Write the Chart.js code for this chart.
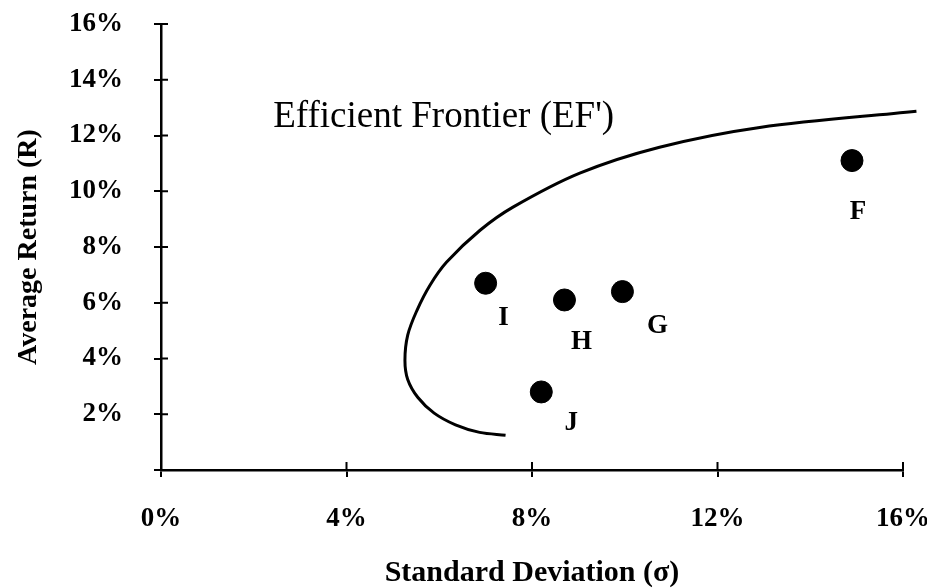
<!DOCTYPE html>
<html>
<head>
<meta charset="utf-8">
<script src="https://cdn.jsdelivr.net/npm/chart.js@4"></script>
<style>
  html, body { margin: 0; padding: 0; background: #fff; }
  #wrap { width: 927px; height: 588px; }
</style>
</head>
<body>
<div id="wrap"><canvas id="grafico" width="927" height="588"></canvas></div>
<script>
// portfolios (standard deviation %, average return %)
const portfolios = ['F', 'G', 'H', 'I', 'J'];
const sigma = [14.9, 9.95, 8.7, 7.0, 8.2];
const retorno = [11.1, 6.4, 6.1, 6.7, 2.8];

const frontierX = [7.43, 6.87, 6.35, 5.89, 5.54, 5.32, 5.26, 5.32, 5.52, 5.80, 6.16, 6.88, 7.59, 9.03, 10.75, 12.91, 16.29];
const frontierY = [1.25, 1.35, 1.62, 2.04, 2.60, 3.25, 3.94, 4.84, 5.73, 6.63, 7.46, 8.60, 9.43, 10.65, 11.58, 12.29, 12.87];

const xTicks = [0, 4, 8, 12, 16];
const yTicks = [2, 4, 6, 8, 10, 12, 14, 16];

// where the letters sit relative to their dot (px)
const labelOffsets = { F: [6, 51], G: [35, 34], H: [17, 42], I: [18, 35], J: [30, 31] };

const serif = '"Liberation Serif", "Times New Roman", serif';

const rotulos = {
  id: 'rotulos',
  afterDatasetsDraw(chart) {
    const ctx = chart.ctx;
    const meta = chart.getDatasetMeta(1);
    ctx.save();
    ctx.fillStyle = '#000';
    ctx.font = 'bold 27px ' + serif;
    ctx.textAlign = 'center';
    ctx.textBaseline = 'middle';
    meta.data.forEach((p, i) => {
      const off = labelOffsets[portfolios[i]];
      ctx.fillText(portfolios[i], p.x + off[0], p.y + off[1]);
    });
    // frontier caption
    const sx = chart.scales.x, sy = chart.scales.y;
    ctx.font = '37px ' + serif;
    ctx.textAlign = 'left';
    ctx.textBaseline = 'alphabetic';
    ctx.fillText("Efficient Frontier (EF')", sx.getPixelForValue(2.42), sy.getPixelForValue(12.3));
    // tick marks crossing into the plot
    ctx.strokeStyle = '#000';
    ctx.lineWidth = 2;
    ctx.beginPath();
    xTicks.forEach(v => {
      const px = sx.getPixelForValue(v);
      ctx.moveTo(px, sy.bottom);
      ctx.lineTo(px, sy.bottom - 8);
    });
    yTicks.forEach(v => {
      const py = sy.getPixelForValue(v);
      ctx.moveTo(sx.left, py);
      ctx.lineTo(sx.left + 7, py);
    });
    ctx.stroke();
    ctx.restore();
  }
};

new Chart(document.getElementById('grafico').getContext('2d'), {
  type: 'scatter',
  data: {
    datasets: [
      {
        label: 'Efficient Frontier',
        data: frontierX.map((x, i) => ({ x: x, y: frontierY[i] })),
        showLine: true,
        borderColor: '#000',
        borderWidth: 3,
        tension: 0.35,
        pointRadius: 0,
        clip: false
      },
      {
        label: 'Portfolios',
        data: sigma.map((x, i) => ({ x: x, y: retorno[i] })),
        backgroundColor: '#000',
        borderColor: '#000',
        pointRadius: 11
      }
    ]
  },
  options: {
    responsive: false,
    animation: false,
    layout: { padding: { left: 0, right: 24, top: 24, bottom: 0 } },
    plugins: { legend: { display: false }, tooltip: { enabled: false } },
    scales: {
      x: {
        min: 0, max: 16,
        afterFit: s => { s.height = 118; s.paddingLeft = 0; s.paddingRight = 0; },
        afterBuildTicks: s => { s.ticks = xTicks.map(v => ({ value: v })); },
        border: { color: '#000', width: 2.5 },
        grid: { drawOnChartArea: false, color: '#000', lineWidth: 2, tickLength: 7 },
        ticks: {
          color: '#000', padding: 26, maxRotation: 0,
          font: { family: serif, size: 27, weight: 'bold' },
          callback: v => v + '%'
        },
        title: {
          display: true, text: 'Standard Deviation (\u03c3)', color: '#000',
          font: { family: serif, size: 30, weight: 'bold', lineHeight: 1 },
          padding: { top: 0, bottom: 0 }
        }
      },
      y: {
        min: 0, max: 16,
        afterFit: s => { s.width = 161; s.paddingTop = 0; s.paddingBottom = 0; },
        afterBuildTicks: s => { s.ticks = [0].concat(yTicks).map(v => ({ value: v })); },
        border: { color: '#000', width: 2.5 },
        grid: { drawOnChartArea: false, color: '#000', lineWidth: 2, tickLength: 7 },
        ticks: {
          color: '#000', padding: 31,
          font: { family: serif, size: 27, weight: 'bold' },
          callback: v => (v === 0 ? '' : v + '%')
        },
        title: {
          display: true, text: 'Average Return (R)', color: '#000',
          font: { family: serif, size: 28, weight: 'bold' },
          padding: { top: 12, bottom: 0 }
        }
      }
    }
  },
  plugins: [rotulos]
});
</script>
</body>
</html>
